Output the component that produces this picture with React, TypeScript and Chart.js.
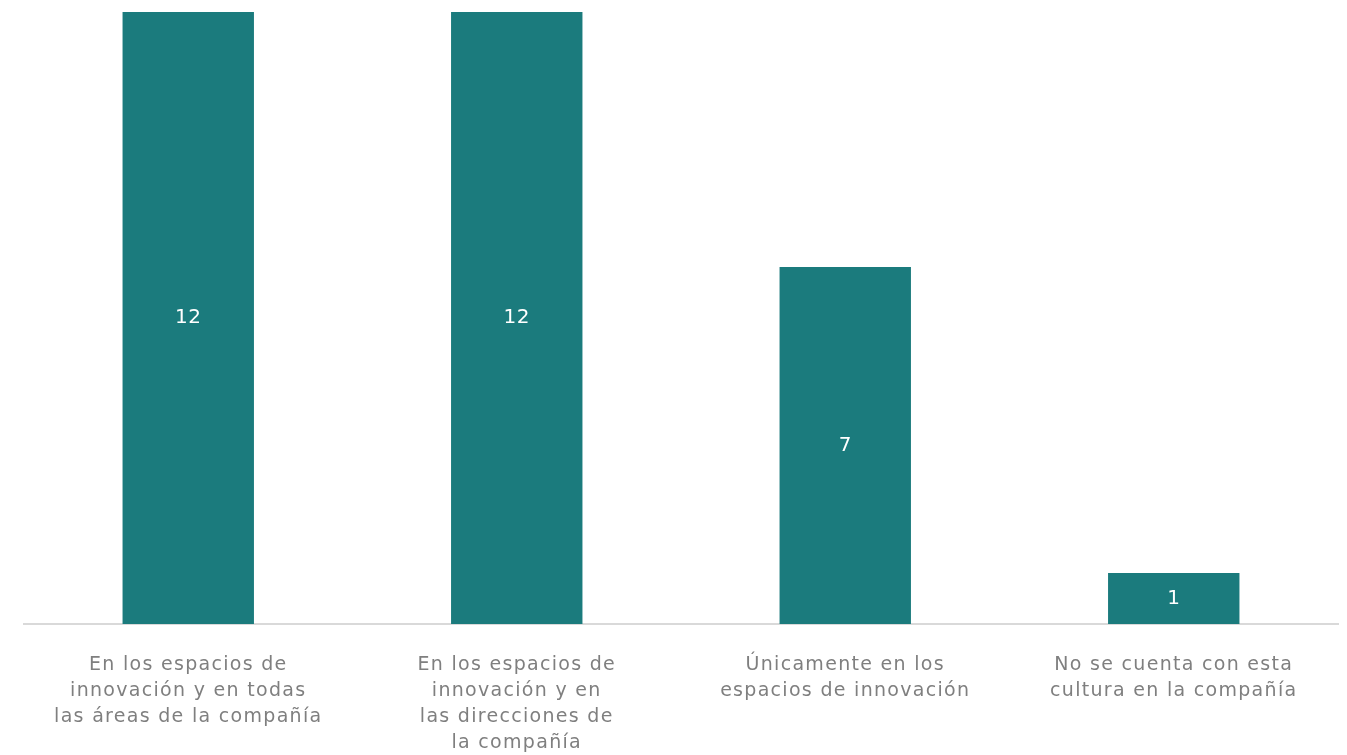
import React, { useEffect, useRef } from "react";
import { Chart, registerables } from "chart.js";

Chart.register(...registerables);

const categories: string[][] = [
  ["En los espacios de", "innovación y en todas", "las áreas de la compañía"],
  ["En los espacios de", "innovación y en", "las direcciones de", "la compañía"],
  ["Únicamente en los", "espacios de innovación"],
  ["No se cuenta con esta", "cultura en la compañía"],
];
const values: number[] = [12, 12, 7, 1];

const FONT = "'DejaVu Sans', sans-serif";

const spacing = {
  id: "spacing",
  beforeDraw(chart: any) {
    chart.ctx.letterSpacing = "1.3px";
  },
};

const valueLabels = {
  id: "valueLabels",
  afterDatasetsDraw(chart: any) {
    const ctx = chart.ctx;
    const meta = chart.getDatasetMeta(0);
    ctx.save();
    ctx.letterSpacing = "0.5px";
    ctx.fillStyle = "#ffffff";
    ctx.font = `20px ${FONT}`;
    ctx.textAlign = "center";
    ctx.textBaseline = "middle";
    meta.data.forEach((bar: any, i: number) => {
      const y = (bar.y + bar.base) / 2;
      ctx.fillText(String(values[i]), bar.x, y);
    });
    ctx.restore();
  },
};

export default function App() {
  const ref = useRef<HTMLCanvasElement>(null);
  useEffect(() => {
    const chart = new Chart(ref.current!, {
      type: "bar",
      data: {
        labels: categories,
        datasets: [
          {
            data: values,
            backgroundColor: "#1b7b7d",
            barPercentage: 0.4,
            categoryPercentage: 1,
          },
        ],
      },
      options: {
        animation: false,
        responsive: true,
        maintainAspectRatio: false,
        layout: { padding: { top: 12, left: 24, right: 9, bottom: 0 } },
        plugins: { legend: { display: false }, tooltip: { enabled: false } },
        scales: {
          y: { display: false, min: 0, max: 12 },
          x: {
            grid: { display: false, drawTicks: false },
            border: { display: true, color: "#d9d9d9", width: 2 },
            afterFit: (scale: any) => {
              scale.height = 131;
            },
            ticks: {
              color: "#7f7f7f",
              padding: 28,
              maxRotation: 0,
              autoSkip: false,
              font: { family: FONT, size: 19, lineHeight: 26 / 19 },
            },
          },
        },
      },
      plugins: [spacing, valueLabels],
    });
    return () => chart.destroy();
  }, []);
  return (
    <div style={{ position: "absolute", left: 0, top: 0, width: 1347, height: 755 }}>
      <canvas ref={ref} />
    </div>
  );
}
